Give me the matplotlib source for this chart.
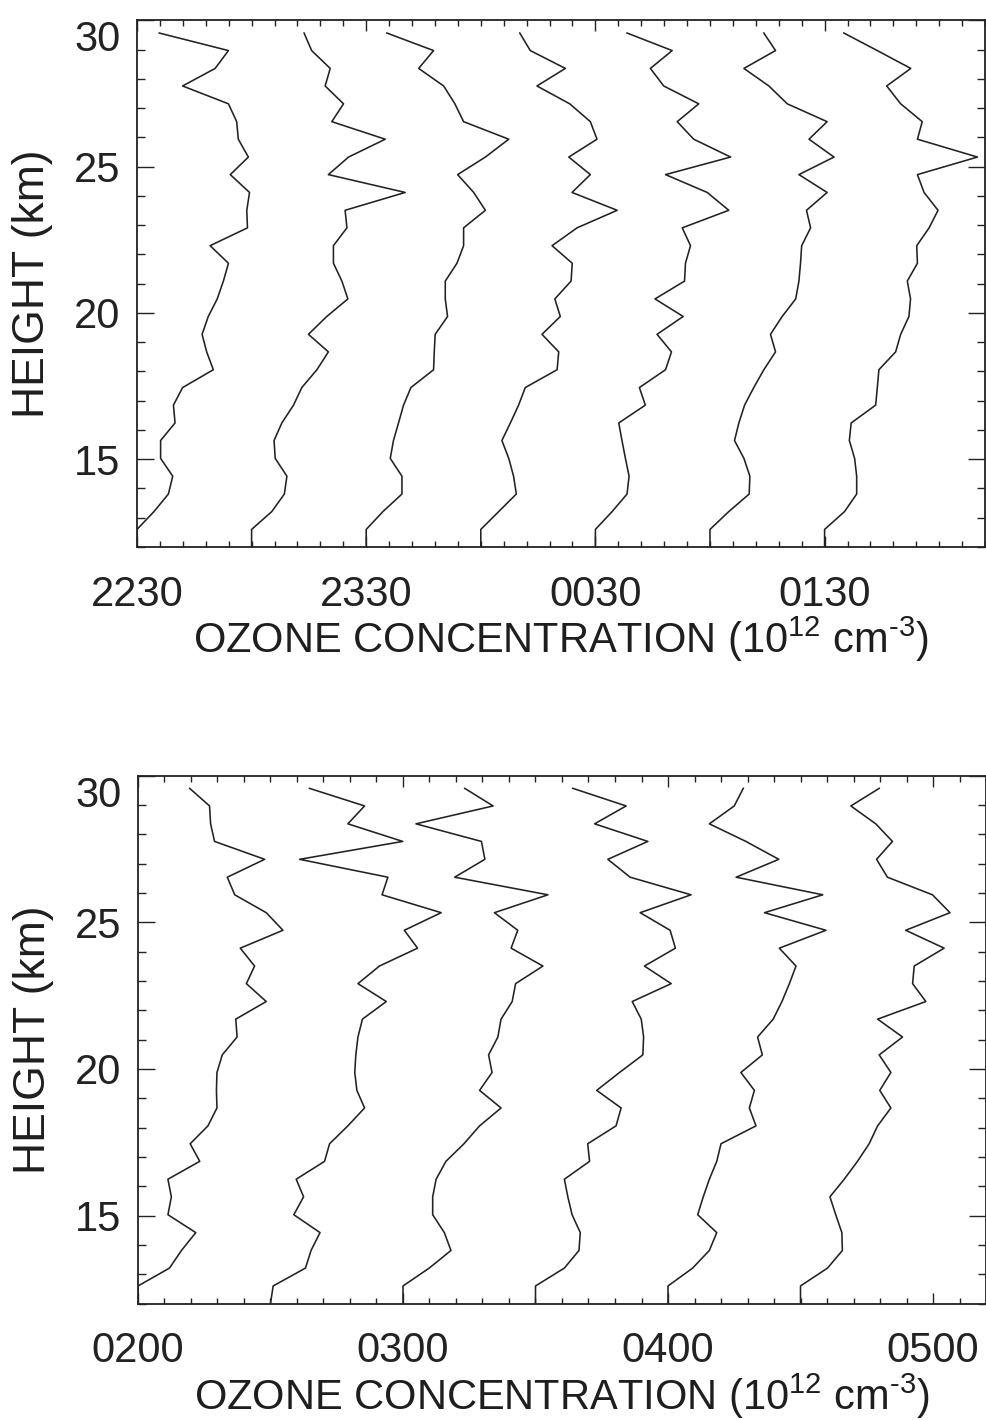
import matplotlib
matplotlib.use('Agg')
import matplotlib.pyplot as plt
from matplotlib.ticker import MultipleLocator

plt.rcParams.update({
    'font.family': ['Liberation Sans', 'DejaVu Sans'],
    'mathtext.fontset': 'custom',
    'mathtext.rm': 'Liberation Sans',
    'mathtext.it': 'Liberation Sans',
    'mathtext.default': 'regular',
})

# heights of the profile points (km); first point is the 12 km base
HEIGHTS = [12.0, 12.6, 13.21, 13.81, 14.42, 15.03, 15.64, 16.24, 16.85, 17.45,
           18.06, 18.67, 19.27, 19.88, 20.48, 21.09, 21.7, 22.3, 22.91, 23.51,
           24.12, 24.73, 25.33, 25.94, 26.54, 27.15, 27.76, 28.36, 28.97, 29.57]

# ozone profiles (10^12 cm^-3), one per half hour, 12.6 km upwards
TOP_PROFILES = [
    [0, 0.74, 1.37, 1.56, 1.03, 1.03, 1.66, 1.59, 1.99, 3.33, 3.04, 2.84, 3.11, 3.5, 3.77,
     3.99, 3.19, 4.82, 4.79, 4.91, 4.07, 4.86, 4.42, 4.35, 3.99, 1.99, 3.41, 3.99, 0.97],   # 2230
    [0, 0.88, 1.43, 1.54, 1.03, 0.98, 1.32, 1.83, 2.19, 2.85, 3.35, 2.48, 3.28, 4.2, 3.94,
     3.57, 3.57, 4.16, 4.08, 6.70, 3.35, 4.23, 5.83, 3.50, 4.01, 3.21, 3.43, 2.62, 2.29],   # 2300
    [0, 0.73, 1.56, 1.56, 1.05, 1.19, 1.41, 1.63, 1.95, 2.94, 2.97, 3.01, 3.55, 3.45, 3.45,
     3.96, 4.25, 4.25, 5.20, 4.69, 3.99, 5.20, 6.22, 4.25, 3.87, 3.38, 2.29, 2.94, 0.90],   # 2330
    [0, 0.78, 1.55, 1.43, 1.22, 0.92, 1.29, 1.65, 1.94, 3.33, 3.40, 2.67, 3.47, 3.23, 3.94,
     3.99, 3.11, 4.2, 5.95, 3.98, 4.78, 3.84, 5.07, 4.78, 3.88, 2.45, 3.69, 2.16, 1.70],    # 0000
    [0, 0.73, 1.38, 1.47, 1.31, 1.16, 1.02, 2.18, 1.92, 3.06, 3.32, 2.69, 3.83, 2.6, 3.89,
     3.93, 4.15, 3.79, 5.82, 4.88, 3.06, 5.90, 4.29, 3.57, 4.51, 2.98, 2.40, 3.35, 1.38],   # 0030
    [0, 0.82, 1.71, 1.74, 1.48, 1.07, 1.26, 1.51, 1.91, 2.35, 2.86, 2.64, 3.15, 3.74, 3.88,
     3.95, 4.0, 4.39, 4.21, 5.11, 3.88, 5.41, 4.32, 5.11, 3.37, 2.57, 1.48, 2.86, 2.35],    # 0100
    [0, 0.87, 1.40, 1.40, 1.31, 1.08, 1.16, 2.23, 2.30, 2.37, 3.10, 3.32, 3.68, 3.75, 3.61,
     4.05, 4.02, 4.56, 4.95, 4.34, 4.05, 6.67, 4.05, 4.26, 3.32, 2.71, 3.76, 2.30, 0.84],   # 0130
]

BOTTOM_PROFILES = [
    [0, 1.19, 1.64, 2.18, 1.13, 1.26, 1.13, 2.33, 1.97, 2.64, 2.98, 2.96, 2.98, 3.18, 3.74,
     3.69, 4.84, 4.09, 4.40, 3.86, 5.47, 4.84, 3.65, 3.37, 4.78, 2.89, 2.74, 2.70, 1.95],   # 0200
    [0.1, 1.32, 1.53, 1.87, 0.88, 1.25, 0.97, 2.04, 2.23, 2.92, 3.55, 3.26, 3.18, 3.22, 3.30,
     3.47, 4.37, 3.30, 4.11, 5.55, 5.05, 6.44, 4.21, 4.43, 1.10, 4.99, 2.92, 3.55, 1.47],   # 0230
    [0, 0.99, 1.81, 1.56, 1.12, 1.12, 1.25, 1.62, 2.3, 2.89, 3.70, 2.89, 3.36, 3.23, 3.58,
     3.70, 4.12, 4.25, 5.28, 4.08, 4.33, 3.45, 5.47, 1.95, 3.09, 2.96, 0.49, 3.40, 2.33],   # 0300
    [0, 1.09, 1.64, 1.69, 1.38, 1.22, 1.09, 2.04, 1.97, 3.04, 3.23, 2.31, 3.17, 4.05, 4.08,
     3.99, 3.65, 5.12, 4.11, 5.28, 5.08, 3.95, 5.87, 3.57, 2.73, 4.24, 2.23, 3.42, 1.41],   # 0330
    [0, 0.93, 1.56, 1.84, 1.12, 1.33, 1.56, 1.84, 2.0, 3.32, 3.07, 3.26, 2.75, 3.56, 3.38,
     3.97, 4.30, 4.58, 4.83, 4.20, 5.96, 3.64, 5.84, 2.57, 4.18, 2.94, 1.56, 2.50, 2.84],   # 0400
    [0, 1.02, 1.58, 1.56, 1.33, 1.11, 1.65, 2.15, 2.59, 2.91, 3.41, 2.99, 3.41, 2.97, 3.85,
     2.91, 4.73, 4.23, 4.29, 5.42, 3.97, 5.64, 4.98, 3.28, 2.87, 3.47, 2.84, 1.90, 2.97],   # 0430
]

TOP_TICK_LABELS = ['2230', '2330', '0030', '0130']
BOTTOM_TICK_LABELS = ['0200', '0300', '0400', '0500']
STEP = 5  # horizontal shift between successive profiles (30 min)

XLABEL = 'OZONE CONCENTRATION (10$^{12}$ cm$^{\u20103}$)'
YLABEL = 'HEIGHT (km)'

fig = plt.figure(figsize=(9.87, 14.2), dpi=100)
ax_top = fig.add_axes([0.1388, 0.6148, 0.8592, 0.3708])
ax_bot = fig.add_axes([0.1398, 0.0820, 0.8592, 0.3717])


def draw_panel(ax, profiles, xmax, labels):
    for i, prof in enumerate(profiles):
        base = i * STEP
        xs = [base] + [base + v for v in prof]
        ax.plot(xs, HEIGHTS, color='#222222', lw=1.15)

    ax.set_xlim(0, xmax)
    ax.set_ylim(12, 30)
    ax.set_xticks([0, 10, 20, 30])
    ax.set_xticklabels(labels)
    ax.xaxis.set_minor_locator(MultipleLocator(1))
    ax.set_yticks([15, 20, 25, 30])
    ax.yaxis.set_minor_locator(MultipleLocator(1))

    ax.tick_params(which='both', direction='in', top=True, right=True,
                   width=1.0, colors='#222222')
    ax.tick_params(axis='y', which='major', length=12, pad=12, labelsize=30)
    ax.tick_params(axis='y', which='minor', length=5.5)
    ax.tick_params(axis='x', which='major', length=8, pad=20, labelsize=30)
    ax.tick_params(axis='x', which='minor', length=4.5)
    for s in ax.spines.values():
        s.set_linewidth(1.3)
        s.set_color('#222222')

    # the top "30" label sits just below the frame, as in the original
    ax.get_yticklabels()[-1].set_verticalalignment('top')

    ax.set_xlabel(XLABEL, fontsize=30, color='#1e1e1e')
    ax.xaxis.set_label_coords(0.5, -0.128)
    ax.set_ylabel(YLABEL, fontsize=32, color='#1e1e1e')
    ax.yaxis.set_label_coords(-0.099, 0.5)


draw_panel(ax_top, TOP_PROFILES, 37, TOP_TICK_LABELS)
draw_panel(ax_bot, BOTTOM_PROFILES, 32, BOTTOM_TICK_LABELS)

fig.savefig('out.png', dpi=100)
